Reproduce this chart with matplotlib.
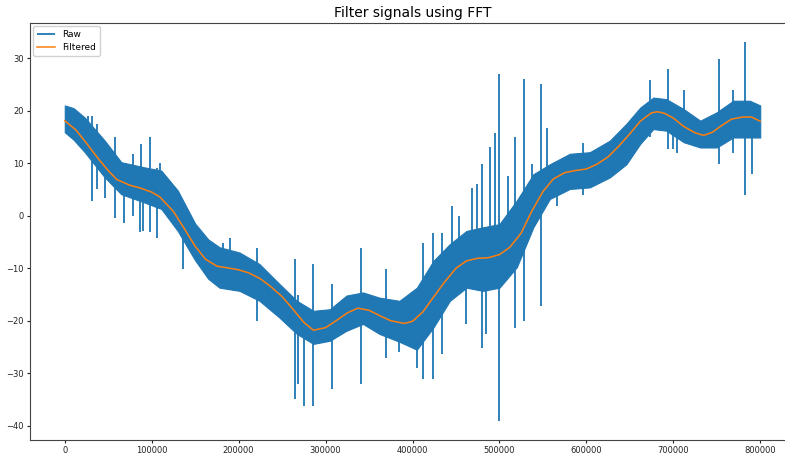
import matplotlib

matplotlib.use("Agg")

import matplotlib.pyplot as plt
import numpy as np

# filtered (FFT low-pass) curve
filt_x = [0, 13000, 25000, 40300, 50000, 59800, 75000, 86300, 100000, 109300,
          125000, 135800, 150000, 162000, 175000, 190000, 200000, 212000, 225000,
          237000, 250000, 262000, 275000, 286000, 300000, 312000, 325000, 337000,
          350000, 362000, 375000, 391000, 400000, 412000, 425000, 437000, 450000,
          462000, 475000, 487000, 500000, 512000, 525000, 537000, 550000, 562000,
          575000, 587000, 600000, 612000, 625000, 637000, 650000, 662000, 675000,
          682000, 690000, 700000, 712000, 725000, 735000, 745000, 755000, 767000,
          780000, 790000, 800000]
filt_y = [18.1, 16.3, 13.8, 10.5, 8.6, 6.9, 5.8, 5.3, 4.5, 3.6,
          0.8, -2.0, -5.8, -8.3, -9.6, -10.0, -10.3, -10.9, -12.0,
          -13.5, -15.4, -17.7, -20.3, -21.8, -21.3, -20.0, -18.5, -17.6,
          -18.0, -19.0, -20.0, -20.5, -20.1, -18.3, -15.3, -12.6, -10.0,
          -8.6, -8.1, -8.0, -7.4, -6.0, -3.3, 0.8, 4.6, 7.0,
          8.2, 8.6, 8.9, 9.8, 11.2, 13.2, 15.6, 18.0, 19.6,
          19.8, 19.5, 18.6, 17.0, 15.8, 15.3, 15.9, 17.1, 18.4,
          18.8, 18.8, 18.0]

# dense core of the raw signal (lower / upper envelope)
band_x = [0, 10000, 23000, 46000, 65000, 92000, 111000, 130000, 150000, 165000,
          178000, 201000, 224000, 247000, 267000, 286000, 305000, 324000, 343000,
          362000, 385000, 405000, 424000, 443000, 462000, 481000, 500000, 520000,
          539000, 558000, 581000, 604000, 627000, 646000, 662000, 677000, 692000,
          712000, 731000, 750000, 769000, 788000, 800000]
band_lo = [15.9, 14.5, 12.1, 7.3, 4.1, 2.5, 1.3, -2.9, -8.5, -12.0,
           -13.7, -14.3, -16.2, -19.4, -22.5, -24.4, -23.8, -21.9, -20.6,
           -22.5, -24.0, -25.5, -21.3, -16.2, -13.7, -14.3, -13.7, -9.8,
           -2.2, 3.2, 5.1, 5.4, 7.3, 9.8, 13.7, 16.5, 16.2,
           14.0, 13.0, 13.0, 14.9, 14.9, 14.9]
band_hi = [21.0, 20.5, 18.7, 14.3, 10.2, 9.2, 8.6, 4.8, -1.5, -4.5,
           -6.0, -7.0, -9.2, -13.0, -16.2, -18.1, -17.8, -15.2, -14.6,
           -15.6, -16.2, -13.7, -8.6, -5.4, -2.9, -2.2, -1.6, 2.9,
           7.9, 9.8, 11.8, 12.1, 14.3, 17.5, 20.6, 22.5, 22.2,
           20.3, 18.1, 19.7, 21.9, 21.9, 21.0]

# isolated spikes of the raw signal: position, low end, high end
spike_x = [26500, 31000, 36800, 46000, 57500, 68000, 78000, 86000, 88000,
           90000, 97800, 106000, 110000, 136000, 167000, 182000,
           190000, 221000, 265000, 268000, 275000, 286000, 307000, 341000,
           370000, 385000, 405000, 412000, 424000, 434000, 445000, 454000,
           462000, 468000, 474000, 480000, 485000, 489000, 495000, 499000,
           510000, 518000, 528000, 537000, 548000, 555000, 566000, 596000,
           673000, 694000, 700000, 704000, 712000, 753000, 769000, 782000, 790000]
spike_lo = [14.0, 2.9, 5.1, 3.4, -0.4, -1.3, 0.0, -3.0, 4.0,
            -2.9, -3.0, -4.2, 3.0, -10.1, -10.0, -10.0,
            -10.0, -20.0, -34.9, -32.0, -36.2, -36.2, -33.0, -32.0,
            -27.0, -26.0, -29.0, -31.0, -31.0, -26.3, -10.0, -10.0,
            -20.6, -8.0, -8.0, -25.1, -22.5, -8.0, -8.0, -39.0,
            -5.0, -21.3, -20.0, -2.0, -17.1, 4.0, 1.9, 4.0,
            15.0, 12.8, 12.8, 12.0, 15.0, 9.9, 12.0, 4.0, 8.0]
spike_hi = [19.0, 18.9, 17.5, 10.0, 14.9, 8.0, 11.8, 6.0, 13.7,
            5.0, 14.9, 9.1, 10.1, -1.0, -5.1, -5.1,
            -4.2, -6.1, -8.2, -15.0, -18.0, -9.2, -13.0, -6.1,
            -10.1, -18.0, -18.0, -5.1, -3.2, -3.2, 1.9, 0.0,
            -8.0, 5.3, 6.1, 9.9, -8.0, 13.0, 15.8, 27.0,
            7.6, 14.9, 26.1, 9.9, 25.1, 16.8, 8.0, 13.9,
            25.9, 28.0, 18.0, 18.0, 24.0, 29.9, 24.0, 33.0, 20.0]

RAW_COLOR = "#1f77b4"
FILT_COLOR = "#ff7f0e"


def main() -> None:
    fig = plt.figure(figsize=(7.85, 4.54), dpi=100)
    # right spine sits just past the figure edge in the reference
    ax = fig.add_axes([30 / 785, 14 / 454, 765 / 785, 417 / 454])

    ax.fill_between(band_x, band_lo, band_hi, color=RAW_COLOR, linewidth=0.8,
                    edgecolor=RAW_COLOR)
    ax.vlines(spike_x, spike_lo, spike_hi, color=RAW_COLOR, linewidth=1.3,
              label="Raw")
    ax.plot(filt_x, filt_y, color=FILT_COLOR, linewidth=1.1, label="Filtered")

    ax.set_xlim(-40000, 840000)
    ax.set_ylim(-42.7, 36.7)
    ax.set_xticks(np.arange(0, 800001, 100000))
    ax.set_yticks(np.arange(-40, 31, 10))
    ax.tick_params(labelsize=6, colors="#222222", length=2.5, pad=1.8)
    ax.ticklabel_format(axis="x", style="plain")
    for side in ("left", "bottom", "top", "right"):
        ax.spines[side].set_color("#444444")

    ax.set_title("Filter signals using FFT", fontsize=10, pad=4)
    ax.legend(loc="upper left", fontsize=6.5, handlelength=2.0,
              borderaxespad=0.35, framealpha=0.9)

    fig.savefig("out.png", dpi=100)
    plt.close(fig)


if __name__ == "__main__":
    main()
